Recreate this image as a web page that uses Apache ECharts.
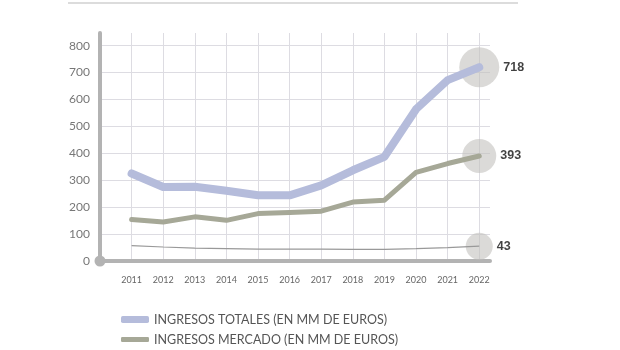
<!DOCTYPE html>
<html>
<head>
<meta charset="utf-8">
<script src="https://cdn.jsdelivr.net/npm/echarts@6/dist/echarts.min.js"></script>
<style>
  body { margin: 0; padding: 0; background: #fff; }
  #chart { width: 620px; height: 350px; }
</style>
</head>
<body>
<div id="chart"></div>
<script>
// years on the x axis
var years = [2011, 2012, 2013, 2014, 2015, 2016, 2017, 2018, 2019, 2020, 2021, 2022];
// ingresos totales (mm euros)
var totales = [325, 275, 276, 261, 244, 244, 281, 337, 387, 564, 672, 720];
// ingresos mercado (mm euros)
var mercado = [154, 145, 164, 151, 176, 180, 185, 219, 226, 329, 362, 390];
// third series (thin line)
var tercera = [57, 52, 48, 46, 44, 44, 44, 43, 43, 46, 50, 55];
// labels shown next to the last point
var endLabels = ['718', '393', '43'];
var seriesNames = [
  'INGRESOS TOTALES (EN MM DE EUROS)',
  'INGRESOS MERCADO (EN MM DE EUROS)',
  'TOTAL GEVERSOS'
];

function pairs(vals) {
  return vals.map(function (v, i) { return [years[i], v]; });
}

var last = years.length - 1;
var circleSizes = [40, 34, 27];
var endPoints = [totales[last], mercado[last], tercera[last]].map(function (v, i) {
  return { value: [years[last], v], symbolSize: circleSizes[i], label: { formatter: endLabels[i] } };
});

// one legend box per row, so the rows stay stacked at the bottom edge
var swatchHeights = [7, 5, 2];
var legends = seriesNames.map(function (name, i) {
  return {
    orient: 'vertical',
    left: 116,
    top: 308 + i * 20,
    itemWidth: 28,
    itemHeight: swatchHeights[i],
    icon: 'roundRect',
    textStyle: { fontFamily: 'Lato', fontSize: 12.5, color: '#555' },
    data: [name]
  };
});

var chart = echarts.init(document.getElementById('chart'));
chart.setOption({
  animation: false,
  grid: { left: 100, right: 130, top: 33, bottom: 89 },
  graphic: [{
    type: 'line',
    shape: { x1: 68, y1: 3, x2: 518, y2: 3 },
    style: { stroke: '#d0d0d0', lineWidth: 1.5 }
  }],
  legend: legends,
  xAxis: {
    type: 'value',
    min: 2010,
    max: 2022.34,
    interval: 1,
    axisLine: {
      lineStyle: { color: '#b3b3b3', width: 4 },
      symbol: ['circle', 'none'],
      symbolSize: [11, 11]
    },
    axisTick: { show: false },
    axisLabel: {
      margin: 15,
      fontFamily: 'Lato',
      fontSize: 9,
      color: '#666',
      formatter: function (v) { return (v > 2010 && v % 1 === 0) ? String(v) : ''; }
    },
    splitLine: {
      show: true,
      showMinLine: false,
      showMaxLine: false,
      lineStyle: { color: '#dddce2', width: 1 }
    }
  },
  yAxis: {
    type: 'value',
    min: 0,
    max: 847,
    interval: 100,
    axisLine: { show: true, lineStyle: { color: '#b3b3b3', width: 4 } },
    axisTick: { show: false },
    axisLabel: {
      margin: 10,
      fontFamily: 'Lato',
      fontSize: 12,
      color: '#777',
      showMaxLabel: false,
      formatter: function (v) { return v % 100 === 0 ? String(v) : ''; }
    },
    splitLine: {
      show: true,
      showMaxLine: false,
      lineStyle: { color: '#dddce2', width: 1 }
    }
  },
  series: [
    {
      name: 'circles',
      type: 'scatter',
      z: 1,
      silent: true,
      itemStyle: { color: 'rgba(195,193,190,0.75)' },
      label: {
        show: true,
        position: 'right',
        distance: 4,
        fontFamily: 'Liberation Sans',
        fontWeight: 'bold',
        fontSize: 12.5,
        color: '#111'
      },
      data: endPoints
    },
    {
      name: seriesNames[0],
      type: 'line',
      z: 4,
      symbol: 'none',
      color: '#b5bcdb',
      lineStyle: { width: 8, color: '#b5bcdb', cap: 'round', join: 'round' },
      data: pairs(totales)
    },
    {
      name: seriesNames[1],
      type: 'line',
      z: 3,
      symbol: 'none',
      color: '#a6a897',
      lineStyle: { width: 5, color: '#a6a897', cap: 'round', join: 'round' },
      data: pairs(mercado)
    },
    {
      name: seriesNames[2],
      type: 'line',
      z: 2,
      symbol: 'none',
      color: '#999',
      lineStyle: { width: 1.2, color: '#999' },
      data: pairs(tercera)
    }
  ]
});
</script>
</body>
</html>
